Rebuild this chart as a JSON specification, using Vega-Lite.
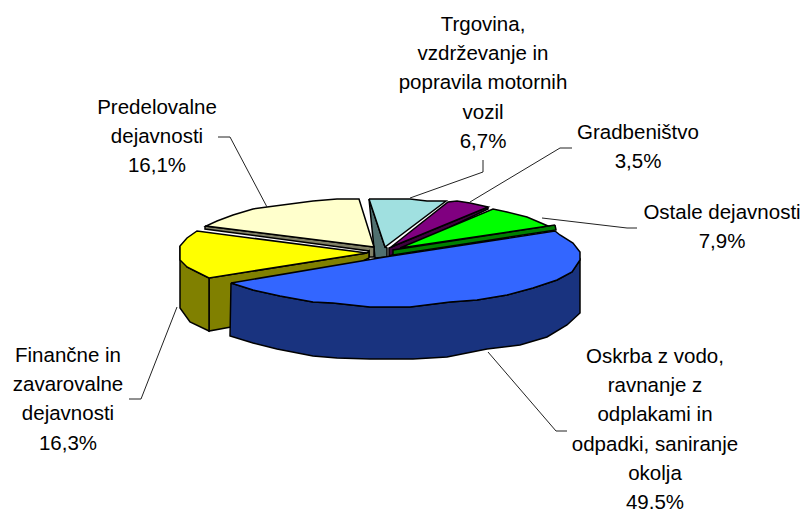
{"$schema":"https://vega.github.io/schema/vega-lite/v6.json","width":803,"height":509,"padding":0,"autosize":{"type":"none"},"background":"white","view":{"stroke":null},
"datasets":{"shapes":[
{"part":"Trgovina side","x":369,"y":199},{"part":"Trgovina side","x":385,"y":247},{"part":"Trgovina side","x":387,"y":248},{"part":"Trgovina side","x":387,"y":257},{"part":"Trgovina side","x":375,"y":258},{"part":"Trgovina side","x":369,"y":199},
{"part":"Trgovina top","x":369,"y":199},{"part":"Trgovina top","x":410,"y":199},{"part":"Trgovina top","x":427,"y":201},{"part":"Trgovina top","x":446,"y":201},{"part":"Trgovina top","x":385,"y":247},{"part":"Trgovina top","x":369,"y":199},
{"part":"Gradbeništvo side","x":488,"y":207},{"part":"Gradbeništvo side","x":488,"y":209},{"part":"Gradbeništvo side","x":392,"y":255},{"part":"Gradbeništvo side","x":389,"y":256},{"part":"Gradbeništvo side","x":389,"y":248},{"part":"Gradbeništvo side","x":488,"y":207},
{"part":"Gradbeništvo top","x":391,"y":247},{"part":"Gradbeništvo top","x":448,"y":202},{"part":"Gradbeništvo top","x":457,"y":201},{"part":"Gradbeništvo top","x":470,"y":203},{"part":"Gradbeništvo top","x":488,"y":207},{"part":"Gradbeništvo top","x":391,"y":247},
{"part":"Ostale side","x":555,"y":225},{"part":"Ostale side","x":556,"y":230},{"part":"Ostale side","x":393,"y":255},{"part":"Ostale side","x":393,"y":250},{"part":"Ostale side","x":555,"y":225},
{"part":"Ostale top","x":400,"y":248},{"part":"Ostale top","x":493,"y":209},{"part":"Ostale top","x":507,"y":212},{"part":"Ostale top","x":527,"y":217},{"part":"Ostale top","x":548,"y":226},{"part":"Ostale top","x":400,"y":248},
{"part":"Predelovalne side","x":205,"y":226},{"part":"Predelovalne side","x":205,"y":229},{"part":"Predelovalne side","x":369,"y":251},{"part":"Predelovalne side","x":369,"y":257},{"part":"Predelovalne side","x":374,"y":257},{"part":"Predelovalne side","x":374,"y":247},{"part":"Predelovalne side","x":205,"y":226},
{"part":"Predelovalne top","x":374,"y":247},{"part":"Predelovalne top","x":359,"y":199},{"part":"Predelovalne top","x":337,"y":199},{"part":"Predelovalne top","x":313,"y":201},{"part":"Predelovalne top","x":290,"y":204},{"part":"Predelovalne top","x":267,"y":207},{"part":"Predelovalne top","x":253,"y":209},{"part":"Predelovalne top","x":233,"y":215},{"part":"Predelovalne top","x":217,"y":221},{"part":"Predelovalne top","x":206,"y":226},{"part":"Predelovalne top","x":374,"y":247},
{"part":"Finančne inner","x":209,"y":278},{"part":"Finančne inner","x":367,"y":253},{"part":"Finančne inner","x":369,"y":251},{"part":"Finančne inner","x":369,"y":258},{"part":"Finančne inner","x":231,"y":327},{"part":"Finančne inner","x":209,"y":331},{"part":"Finančne inner","x":209,"y":278},
{"part":"Finančne side","x":180,"y":246},{"part":"Finančne side","x":187,"y":267},{"part":"Finančne side","x":197,"y":272},{"part":"Finančne side","x":209,"y":278},{"part":"Finančne side","x":209,"y":331},{"part":"Finančne side","x":190,"y":322},{"part":"Finančne side","x":180,"y":308},{"part":"Finančne side","x":180,"y":246},
{"part":"Finančne top","x":367,"y":253},{"part":"Finančne top","x":197,"y":231},{"part":"Finančne top","x":187,"y":238},{"part":"Finančne top","x":180,"y":246},{"part":"Finančne top","x":180,"y":260},{"part":"Finančne top","x":187,"y":267},{"part":"Finančne top","x":197,"y":272},{"part":"Finančne top","x":209,"y":278},{"part":"Finančne top","x":367,"y":253},
{"part":"Oskrba side","x":231,"y":283},{"part":"Oskrba side","x":253,"y":290},{"part":"Oskrba side","x":280,"y":296},{"part":"Oskrba side","x":313,"y":302},{"part":"Oskrba side","x":333,"y":303},{"part":"Oskrba side","x":370,"y":307},{"part":"Oskrba side","x":410,"y":307},{"part":"Oskrba side","x":450,"y":302},{"part":"Oskrba side","x":477,"y":300},{"part":"Oskrba side","x":507,"y":295},{"part":"Oskrba side","x":533,"y":288},{"part":"Oskrba side","x":557,"y":280},{"part":"Oskrba side","x":572,"y":272},{"part":"Oskrba side","x":580,"y":260},{"part":"Oskrba side","x":580,"y":313},{"part":"Oskrba side","x":567,"y":325},{"part":"Oskrba side","x":547,"y":337},{"part":"Oskrba side","x":520,"y":345},{"part":"Oskrba side","x":487,"y":349},{"part":"Oskrba side","x":447,"y":357},{"part":"Oskrba side","x":413,"y":359},{"part":"Oskrba side","x":370,"y":359},{"part":"Oskrba side","x":337,"y":358},{"part":"Oskrba side","x":313,"y":356},{"part":"Oskrba side","x":277,"y":349},{"part":"Oskrba side","x":253,"y":343},{"part":"Oskrba side","x":230,"y":336},{"part":"Oskrba side","x":231,"y":283},
{"part":"Oskrba top","x":385,"y":257},{"part":"Oskrba top","x":555,"y":231},{"part":"Oskrba top","x":560,"y":235},{"part":"Oskrba top","x":573,"y":243},{"part":"Oskrba top","x":580,"y":252},{"part":"Oskrba top","x":580,"y":260},{"part":"Oskrba top","x":572,"y":272},{"part":"Oskrba top","x":557,"y":280},{"part":"Oskrba top","x":533,"y":288},{"part":"Oskrba top","x":507,"y":295},{"part":"Oskrba top","x":477,"y":300},{"part":"Oskrba top","x":450,"y":302},{"part":"Oskrba top","x":410,"y":307},{"part":"Oskrba top","x":370,"y":307},{"part":"Oskrba top","x":333,"y":303},{"part":"Oskrba top","x":313,"y":302},{"part":"Oskrba top","x":280,"y":296},{"part":"Oskrba top","x":253,"y":290},{"part":"Oskrba top","x":231,"y":283},{"part":"Oskrba top","x":385,"y":257}
],
"leaders":[
{"to":"Trgovina","x":410,"y":198},{"to":"Trgovina","x":483,"y":172},{"to":"Trgovina","x":483,"y":160},
{"to":"Gradbeništvo","x":470,"y":202},{"to":"Gradbeništvo","x":560,"y":148},{"to":"Gradbeništvo","x":572,"y":148},
{"to":"Ostale","x":542,"y":218},{"to":"Ostale","x":627,"y":228},{"to":"Ostale","x":637,"y":228},
{"to":"Predelovalne","x":267,"y":207},{"to":"Predelovalne","x":230,"y":137},{"to":"Predelovalne","x":218,"y":137},
{"to":"Finančne","x":177,"y":307},{"to":"Finančne","x":141,"y":399},{"to":"Finančne","x":129,"y":399},
{"to":"Oskrba","x":488,"y":352},{"to":"Oskrba","x":556,"y":431},{"to":"Oskrba","x":567,"y":431}
],
"labels":[
{"label":"Trgovina,\nvzdrževanje in\npopravila motornih\nvozil\n6,7%","x":483,"y":31},
{"label":"Gradbeništvo\n3,5%","x":638,"y":139},
{"label":"Ostale dejavnosti\n7,9%","x":722,"y":219},
{"label":"Predelovalne\ndejavnosti\n16,1%","x":157,"y":114},
{"label":"Finančne in\nzavarovalne\ndejavnosti\n16,3%","x":68,"y":362},
{"label":"Oskrba z vodo,\nravnanje z\nodplakami in\nodpadki, saniranje\nokolja\n49,5%","x":655,"y":363}
]},
"encoding":{
"x":{"field":"x","type":"quantitative","axis":null,"scale":{"domain":[0,803],"nice":false,"zero":false}},
"y":{"field":"y","type":"quantitative","axis":null,"scale":{"domain":[0,509],"reverse":true,"nice":false,"zero":false}}
},
"layer":[
{"data":{"name":"shapes"},"transform":[{"window":[{"op":"row_number","as":"i"}]}],"mark":{"type":"line","filled":true,"stroke":"black","strokeWidth":1.5,"strokeJoin":"miter","interpolate":"linear"},
"encoding":{"order":{"field":"i","type":"quantitative"},"detail":{"field":"part"},"color":{"field":"part","type":"nominal","legend":null,"sort":null,"scale":{"domain":["Trgovina side","Trgovina top","Gradbeništvo side","Gradbeništvo top","Ostale side","Ostale top","Predelovalne side","Predelovalne top","Finančne inner","Finančne side","Finančne top","Oskrba side","Oskrba top"],"range":["#507070","#A0E0E0","#400040","#800080","#008000","#00FF00","#808066","#FFFFCC","#808000","#808000","#FFFF00","#19337F","#3366FF"]}}}},
{"data":{"name":"leaders"},"transform":[{"window":[{"op":"row_number","as":"i"}]}],"mark":{"type":"line","color":"#222222","strokeWidth":1},"encoding":{"order":{"field":"i","type":"quantitative"},"detail":{"field":"to"}}},
{"data":{"name":"labels"},"mark":{"type":"text","font":"Liberation Sans","fontSize":20.5,"lineHeight":29.2,"lineBreak":"\n","align":"center","baseline":"alphabetic","color":"black"},"encoding":{"text":{"field":"label"}}}
]}
